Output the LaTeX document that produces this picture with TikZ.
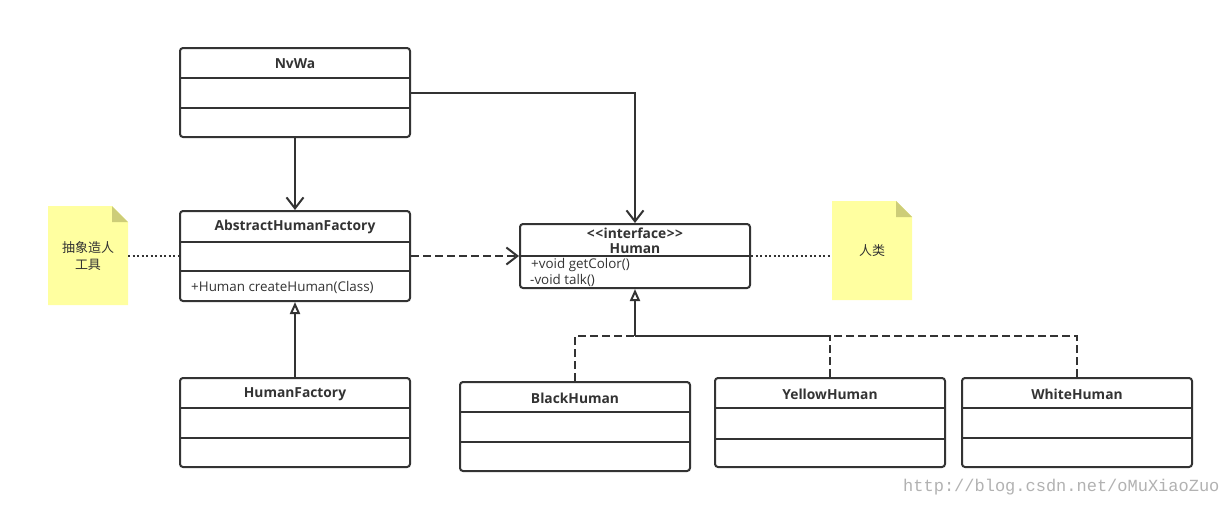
\documentclass[tikz,border=0pt]{standalone}
\usepackage{fontspec}
\setmainfont{Open Sans}
\newfontfamily\cjk{Noto Sans CJK SC}
\newfontfamily\wmfont{Liberation Mono}
\usetikzlibrary{arrows.meta}
\definecolor{ink}{RGB}{51,51,51}
\definecolor{notefill}{RGB}{255,255,160}
\definecolor{notefold}{RGB}{205,205,120}
\begin{document}
\begin{tikzpicture}[x=1pt,y=-1pt,
  cls/.style={draw=ink, line width=2pt, rounded corners=3pt, minimum width=230pt, inner sep=0pt, fill=white},
  ttl/.style={font=\fontsize{13.8}{15}\selectfont\bfseries, text=ink, inner sep=0pt},
  mem/.style={font=\fontsize{13.4}{15}\selectfont, text=ink, anchor=west, inner sep=0pt},
  conn/.style={draw=ink, line width=2pt},
  sep/.style={draw=ink, line width=2pt},
  dashline/.style={dash pattern=on 8pt off 4pt},
  dotline/.style={dash pattern=on 2pt off 2.5pt},
  openv/.style={-{Straight Barb[length=11pt,width=17pt]}},
  tri/.style={-{Triangle[fill=white,length=12pt,width=10pt]}},
  notebox/.style={inner sep=0pt, minimum width=80pt, minimum height=99pt, font=\cjk\fontsize{13}{17}\selectfont, text=ink, align=center},
  notepaper/.style={fill=notefill, draw=none},
  notecorner/.style={fill=notefold, draw=none}
]
\useasboundingbox (0,0) rectangle (1224,504);
\fill[white] (0,0) rectangle (1224,504);

% NvWa
\node[cls, minimum height=89pt] (nvwa) at (295,92.5) {};
\node[ttl] (nvwaT) at (295,64) {NvWa};
\draw[sep] (180,77.5) -- (410,77.5);
\draw[sep] (180,107.5) -- (410,107.5);

% AbstractHumanFactory
\node[cls, minimum height=90pt] (ahf) at (295,256) {};
\node[ttl] (ahfT) at (295,227) {AbstractHumanFactory};
\draw[sep] (180,241.5) -- (410,241.5);
\draw[sep] (180,271) -- (410,271);
\node[mem] (ahfM) at (191,287) {+Human createHuman(Class)};

% HumanFactory
\node[cls, minimum height=89pt] (hf) at (295,422.5) {};
\node[ttl] (hfT) at (295,394) {HumanFactory};
\draw[sep] (180,408) -- (410,408);
\draw[sep] (180,437.5) -- (410,437.5);

% Human interface
\node[cls, minimum height=64pt] (human) at (635,256) {};
\node[ttl] (humanS) at (635,233) {<\kern0.5pt<\kern0.5pt interface\kern0.5pt>\kern0.5pt>};
\node[ttl] (humanT) at (635,248.5) {Human};
\draw[sep] (520,256) -- (750,256);
\node[mem] (humanM1) at (531,265) {+void getColor()};
\node[mem] (humanM2) at (530,280.5) {-void talk()};

% BlackHuman
\node[cls, minimum height=89pt] (bh) at (575,426.5) {};
\node[ttl] (bhT) at (575,398) {BlackHuman};
\draw[sep] (460,412) -- (690,412);
\draw[sep] (460,442) -- (690,442);

% YellowHuman
\node[cls, minimum height=89pt] (yh) at (830,422.5) {};
\node[ttl] (yhT) at (830,394) {YellowHuman};
\draw[sep] (715,408) -- (945,408);
\draw[sep] (715,438.5) -- (945,438.5);

% WhiteHuman
\node[cls, minimum height=89pt] (wh) at (1077,422.5) {};
\node[ttl] (whT) at (1077,394) {WhiteHuman};
\draw[sep] (962,408) -- (1192,408);
\draw[sep] (962,437.5) -- (1192,437.5);

% Notes
\fill[notepaper] (48,206) -- (112,206) -- (128,222) -- (128,305) -- (48,305) -- cycle;
\fill[notecorner] (112,206) -- (128,222) -- (112,222) -- cycle;
\node[notebox] (note1) at (88,256) {抽象造人\\工具};

\fill[notepaper] (832,201) -- (896,201) -- (912,217) -- (912,300) -- (832,300) -- cycle;
\fill[notecorner] (896,201) -- (912,217) -- (896,217) -- cycle;
\node[notebox] (note2) at (872,251) {人类};

% Connectors
\draw[conn, openv] (nvwa.south) -- (ahf.north);
\draw[conn, openv] (nvwa.east) -| (human.north);
\draw[conn, dashline, openv] (ahf.east) -- (human.west);
\draw[conn, tri] (hf.north) -- (ahf.south);
\coordinate (junc) at (635,336);
\draw[conn, dashline] (bh.north) |- (junc);
\draw[conn, dashline] (yh.north) |- (junc);
\draw[conn, dashline] (wh.north) |- (junc);
\draw[conn, tri] (junc) -- (human.south);
\draw[conn, dotline] (note1.east |- ahf.west) -- (ahf.west);
\draw[conn, dotline] (human.east) -- (human.east -| note2.west);

% Watermark
\node[anchor=base west, inner sep=0pt, text=black!30, font=\wmfont\fontsize{17}{17}\selectfont] (wm) at (903,491) {http://blog.csdn.net/oMuXiaoZuo};
\end{tikzpicture}
\end{document}
